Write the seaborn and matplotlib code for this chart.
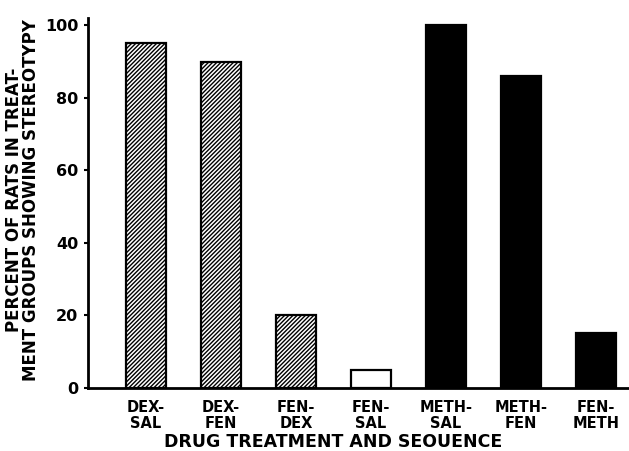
import numpy as np
import pandas as pd
import matplotlib
matplotlib.use('Agg')
import matplotlib.pyplot as plt
import seaborn as sns

# 数据
groups = ['DEX-\nSAL', 'DEX-\nFEN', 'FEN-\nDEX', 'FEN-\nSAL', 'METH-\nSAL', 'METH-\nFEN', 'FEN-\nMETH']
percent = [95, 90, 20, 5, 100, 86, 15]
fill_kind = ['hatch', 'hatch', 'hatch', 'open', 'solid', 'solid', 'solid']
y_ticks = [0, 20, 40, 60, 80, 100]

df = pd.DataFrame({'group': groups, 'percent': percent})

sns.set_style('ticks')
plt.rcParams['font.family'] = ['DejaVu Sans']
plt.rcParams['text.color'] = 'black'
plt.rcParams['axes.labelcolor'] = 'black'
plt.rcParams['xtick.color'] = 'black'
plt.rcParams['ytick.color'] = 'black'
plt.rcParams['axes.edgecolor'] = 'black'
plt.rcParams['hatch.linewidth'] = 1.0
plt.rcParams['hatch.color'] = 'black'

fig = plt.figure(figsize=(6.29, 4.51), dpi=100)
ax = fig.add_axes([0.140, 0.140, 0.858, 0.820])

sns.barplot(data=df, x='group', y='percent', color='white', width=0.53,
            edgecolor='black', linewidth=1.6, ax=ax)

# 设置每个柱子的样式
for patch, kind in zip(ax.patches, fill_kind):
    if kind == 'hatch':
        patch.set_facecolor('white')
        patch.set_hatch('////////')
    elif kind == 'solid':
        patch.set_facecolor('black')
    else:
        patch.set_facecolor('white')

ax.set_xlim(-0.77, 6.42)
ax.set_ylim(0, 102)
ax.set_yticks(y_ticks)
ax.set_yticklabels([str(t) for t in y_ticks], family='Liberation Sans Narrow',
                   fontweight='bold', fontsize=11.5)
ax.tick_params(axis='y', length=3, width=1.5, pad=4)
ax.tick_params(axis='x', length=0, pad=9, labelsize=10.5)
for lab in ax.get_xticklabels():
    lab.set_fontweight('bold')
    lab.set_linespacing(1.05)

ax.set_xlabel('DRUG TREATMENT AND SEOUENCE', fontsize=12.5, fontweight='bold')
ax.xaxis.set_label_coords(0.454, -0.122)
ax.set_ylabel('PERCENT OF RATS IN TREAT-\nMENT GROUPS SHOWING STEREOTYPY',
              fontsize=12, fontweight='bold', linespacing=0.9)
ax.yaxis.set_label_coords(-0.089, 0.508)

sns.despine(ax=ax)
ax.spines['left'].set_linewidth(2)
ax.spines['bottom'].set_linewidth(2)

plt.savefig('out.png', dpi=100)
plt.close()
